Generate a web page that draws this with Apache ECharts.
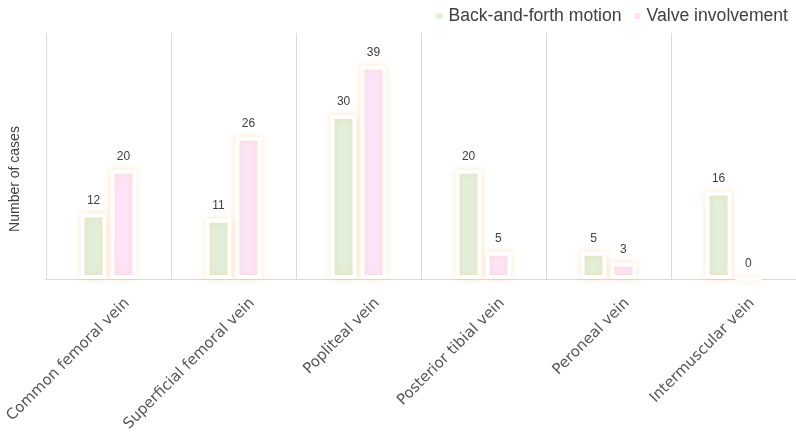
<!DOCTYPE html>
<html>
<head>
<meta charset="utf-8">
<script src="https://cdn.jsdelivr.net/npm/echarts@6/dist/echarts.min.js"></script>
<style>
  html, body { margin: 0; padding: 0; background: #fff; }
  #chart-container { width: 796px; height: 440px; }
</style>
</head>
<body>
<div id="chart-container"></div>
<script>
var categories = [
  "Common femoral vein",
  "Superficial femoral vein",
  "Popliteal vein",
  "Posterior tibial vein",
  "Peroneal vein",
  "Intermuscular vein",
];
var motionValues = [12, 11, 30, 20, 5, 16];
var valveValues = [20, 26, 39, 5, 3, 0];

var dom = document.getElementById("chart-container");
var myChart = echarts.init(dom, null, { renderer: "canvas" });

var barStyle = function (color) {
  return {
    color: color,
    borderColor: "#ffffff",
    borderWidth: 4,
    shadowColor: "rgba(250, 190, 130, 0.35)",
    shadowBlur: 6,
  };
};

var option = {
  textStyle: { fontFamily: "Liberation Sans, Arial, sans-serif" },
  legend: {
    right: 3,
    top: 2,
    icon: "rect",
    itemWidth: 8,
    itemHeight: 8,
    itemGap: 11,
    textStyle: { fontSize: 17.6, color: "#404040" },
    data: ["Back-and-forth motion", "Valve involvement"],
  },
  grid: {
    left: 46,
    right: 0,
    top: 33,
    bottom: 161,
    outerBoundsMode: "none",
  },
  xAxis: {
    type: "category",
    data: categories,
    axisLine: { lineStyle: { color: "#d9d9d9" } },
    axisTick: { show: false },
    splitLine: { show: true, lineStyle: { color: "#d9d9d9" } },
    axisLabel: {
      rotate: 45,
      fontSize: 15,
      fontFamily: "DejaVu Sans",
      color: "#555",
      interval: 0,
      margin: 3,
      verticalAlign: "top",
      padding: [19, 0, 0, 0],
    },
  },
  yAxis: {
    type: "value",
    min: 0,
    max: 45,
    name: "Number of cases",
    nameLocation: "middle",
    nameGap: 24,
    nameTextStyle: { fontSize: 14, color: "#404040", padding: [0, 46, 0, 0] },
    axisLine: { show: false },
    axisTick: { show: false },
    axisLabel: { show: false },
    splitLine: { show: false },
  },
  series: [
    {
      name: "Back-and-forth motion",
      type: "bar",
      data: motionValues,
      barWidth: 26,
      barGap: "15%",
      itemStyle: barStyle("#e2efd9"),
      label: { show: true, position: "top", distance: 7, fontSize: 12, color: "#404040" },
    },
    {
      name: "Valve involvement",
      type: "bar",
      data: valveValues,
      barWidth: 26,
      itemStyle: barStyle("#fce4f8"),
      label: { show: true, position: "top", distance: 7, fontSize: 12, color: "#404040" },
    },
  ],
};

myChart.setOption(option);
window.addEventListener("resize", myChart.resize);
</script>
</body>
</html>
